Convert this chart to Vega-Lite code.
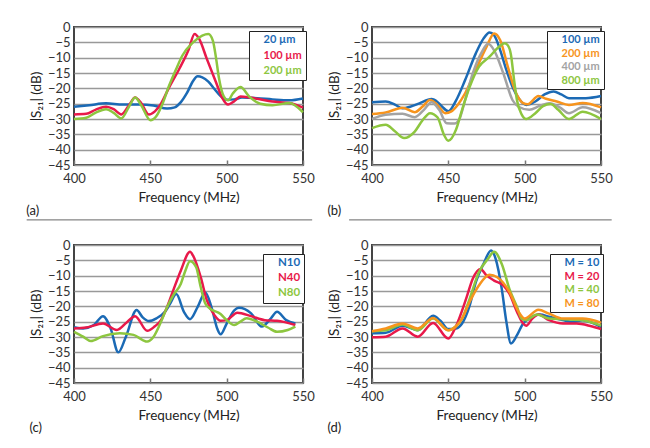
{
  "$schema": "https://vega.github.io/schema/vega-lite/v6.json",
  "padding": {"left": 25, "top": 20, "right": 0, "bottom": 0},
  "background": "white",
  "data": {"values": [
    {"p":"a","s":"20 µm","f":400,"v":-26},{"p":"a","s":"20 µm","f":410,"v":-25.5},{"p":"a","s":"20 µm","f":421,"v":-24.9},{"p":"a","s":"20 µm","f":432,"v":-25.3},{"p":"a","s":"20 µm","f":443,"v":-25.3},{"p":"a","s":"20 µm","f":452,"v":-25.6},{"p":"a","s":"20 µm","f":461,"v":-26.6},{"p":"a","s":"20 µm","f":466,"v":-26.2},{"p":"a","s":"20 µm","f":470,"v":-24.5},{"p":"a","s":"20 µm","f":474,"v":-21.5},{"p":"a","s":"20 µm","f":478,"v":-17.6},{"p":"a","s":"20 µm","f":481,"v":-16.1},{"p":"a","s":"20 µm","f":484,"v":-16.4},{"p":"a","s":"20 µm","f":488,"v":-17.8},{"p":"a","s":"20 µm","f":492,"v":-20.2},{"p":"a","s":"20 µm","f":496,"v":-22.5},{"p":"a","s":"20 µm","f":500,"v":-23.7},{"p":"a","s":"20 µm","f":505,"v":-23.6},{"p":"a","s":"20 µm","f":510,"v":-23},{"p":"a","s":"20 µm","f":520,"v":-23.2},{"p":"a","s":"20 µm","f":530,"v":-23.6},{"p":"a","s":"20 µm","f":541,"v":-23.9},{"p":"a","s":"20 µm","f":550,"v":-23.3},
    {"p":"a","s":"100 µm","f":400,"v":-28.5},{"p":"a","s":"100 µm","f":408,"v":-28.3},{"p":"a","s":"100 µm","f":414,"v":-27},{"p":"a","s":"100 µm","f":421,"v":-26},{"p":"a","s":"100 µm","f":426,"v":-26.8},{"p":"a","s":"100 µm","f":431,"v":-28.5},{"p":"a","s":"100 µm","f":436,"v":-25.5},{"p":"a","s":"100 µm","f":440,"v":-23},{"p":"a","s":"100 µm","f":444,"v":-24.8},{"p":"a","s":"100 µm","f":449,"v":-28.5},{"p":"a","s":"100 µm","f":453,"v":-27.5},{"p":"a","s":"100 µm","f":457,"v":-25},{"p":"a","s":"100 µm","f":462,"v":-20},{"p":"a","s":"100 µm","f":469,"v":-13.6},{"p":"a","s":"100 µm","f":475,"v":-7.5},{"p":"a","s":"100 µm","f":479,"v":-2.3},{"p":"a","s":"100 µm","f":482,"v":-3.9},{"p":"a","s":"100 µm","f":487,"v":-10.4},{"p":"a","s":"100 µm","f":493,"v":-18},{"p":"a","s":"100 µm","f":497,"v":-23},{"p":"a","s":"100 µm","f":501,"v":-25.3},{"p":"a","s":"100 µm","f":505,"v":-24.2},{"p":"a","s":"100 µm","f":509,"v":-22.7},{"p":"a","s":"100 µm","f":515,"v":-23},{"p":"a","s":"100 µm","f":520,"v":-23.4},{"p":"a","s":"100 µm","f":530,"v":-24.3},{"p":"a","s":"100 µm","f":541,"v":-24.8},{"p":"a","s":"100 µm","f":550,"v":-26.3},
    {"p":"a","s":"200 µm","f":400,"v":-30},{"p":"a","s":"200 µm","f":408,"v":-29.6},{"p":"a","s":"200 µm","f":414,"v":-28},{"p":"a","s":"200 µm","f":421,"v":-26.8},{"p":"a","s":"200 µm","f":426,"v":-28},{"p":"a","s":"200 µm","f":431,"v":-29.8},{"p":"a","s":"200 µm","f":436,"v":-26},{"p":"a","s":"200 µm","f":440,"v":-23},{"p":"a","s":"200 µm","f":444,"v":-25.5},{"p":"a","s":"200 µm","f":450,"v":-30.4},{"p":"a","s":"200 µm","f":454,"v":-29},{"p":"a","s":"200 µm","f":458,"v":-25},{"p":"a","s":"200 µm","f":462,"v":-19.5},{"p":"a","s":"200 µm","f":467,"v":-13.6},{"p":"a","s":"200 µm","f":471,"v":-9.3},{"p":"a","s":"200 µm","f":478,"v":-5},{"p":"a","s":"200 µm","f":484,"v":-2.8},{"p":"a","s":"200 µm","f":488,"v":-2.3},{"p":"a","s":"200 µm","f":491,"v":-4.5},{"p":"a","s":"200 µm","f":493,"v":-10},{"p":"a","s":"200 µm","f":495,"v":-16.8},{"p":"a","s":"200 µm","f":498,"v":-22.5},{"p":"a","s":"200 µm","f":501,"v":-23.9},{"p":"a","s":"200 µm","f":504,"v":-21.7},{"p":"a","s":"200 µm","f":509,"v":-19.6},{"p":"a","s":"200 µm","f":515,"v":-22.8},{"p":"a","s":"200 µm","f":522,"v":-25},{"p":"a","s":"200 µm","f":530,"v":-25.5},{"p":"a","s":"200 µm","f":541,"v":-24.8},{"p":"a","s":"200 µm","f":550,"v":-27.8},
    {"p":"b","s":"100 µm","f":400,"v":-24.5},{"p":"b","s":"100 µm","f":409,"v":-24.3},{"p":"b","s":"100 µm","f":415,"v":-25.3},{"p":"b","s":"100 µm","f":420,"v":-26.5},{"p":"b","s":"100 µm","f":425,"v":-26},{"p":"b","s":"100 µm","f":431,"v":-24.9},{"p":"b","s":"100 µm","f":439,"v":-23.5},{"p":"b","s":"100 µm","f":443,"v":-24.5},{"p":"b","s":"100 µm","f":446,"v":-26},{"p":"b","s":"100 µm","f":450,"v":-27.5},{"p":"b","s":"100 µm","f":455,"v":-24},{"p":"b","s":"100 µm","f":461,"v":-17.3},{"p":"b","s":"100 µm","f":468,"v":-8.6},{"p":"b","s":"100 µm","f":473,"v":-3.8},{"p":"b","s":"100 µm","f":477,"v":-1.8},{"p":"b","s":"100 µm","f":480,"v":-2.7},{"p":"b","s":"100 µm","f":484,"v":-7.6},{"p":"b","s":"100 µm","f":488,"v":-14},{"p":"b","s":"100 µm","f":492,"v":-19.5},{"p":"b","s":"100 µm","f":496,"v":-23.2},{"p":"b","s":"100 µm","f":501,"v":-25.4},{"p":"b","s":"100 µm","f":507,"v":-24.3},{"p":"b","s":"100 µm","f":513,"v":-22},{"p":"b","s":"100 µm","f":519,"v":-21},{"p":"b","s":"100 µm","f":524,"v":-22},{"p":"b","s":"100 µm","f":529,"v":-23.2},{"p":"b","s":"100 µm","f":540,"v":-23.2},{"p":"b","s":"100 µm","f":550,"v":-22.5},
    {"p":"b","s":"200 µm","f":400,"v":-28.4},{"p":"b","s":"200 µm","f":409,"v":-27.9},{"p":"b","s":"200 µm","f":420,"v":-26.3},{"p":"b","s":"200 µm","f":428,"v":-27.8},{"p":"b","s":"200 µm","f":433,"v":-26},{"p":"b","s":"200 µm","f":438,"v":-23.8},{"p":"b","s":"200 µm","f":443,"v":-25.5},{"p":"b","s":"200 µm","f":448,"v":-28.1},{"p":"b","s":"200 µm","f":452,"v":-27.5},{"p":"b","s":"200 µm","f":456,"v":-25.5},{"p":"b","s":"200 µm","f":461,"v":-21.6},{"p":"b","s":"200 µm","f":468,"v":-14},{"p":"b","s":"200 µm","f":475,"v":-6.5},{"p":"b","s":"200 µm","f":480,"v":-2.1},{"p":"b","s":"200 µm","f":484,"v":-4.3},{"p":"b","s":"200 µm","f":489,"v":-13},{"p":"b","s":"200 µm","f":494,"v":-21.1},{"p":"b","s":"200 µm","f":499,"v":-24.8},{"p":"b","s":"200 µm","f":502,"v":-25.2},{"p":"b","s":"200 µm","f":509,"v":-22.5},{"p":"b","s":"200 µm","f":514,"v":-23.4},{"p":"b","s":"200 µm","f":521,"v":-24.3},{"p":"b","s":"200 µm","f":529,"v":-25.4},{"p":"b","s":"200 µm","f":538,"v":-24.8},{"p":"b","s":"200 µm","f":550,"v":-26.2},
    {"p":"b","s":"400 µm","f":400,"v":-30},{"p":"b","s":"400 µm","f":409,"v":-28.6},{"p":"b","s":"400 µm","f":420,"v":-28.3},{"p":"b","s":"400 µm","f":428,"v":-29.4},{"p":"b","s":"400 µm","f":434,"v":-27},{"p":"b","s":"400 µm","f":439,"v":-24.5},{"p":"b","s":"400 µm","f":444,"v":-27},{"p":"b","s":"400 µm","f":449,"v":-31.4},{"p":"b","s":"400 µm","f":454,"v":-31.5},{"p":"b","s":"400 µm","f":457,"v":-30.3},{"p":"b","s":"400 µm","f":461,"v":-23.8},{"p":"b","s":"400 µm","f":466,"v":-15.1},{"p":"b","s":"400 µm","f":472,"v":-8.1},{"p":"b","s":"400 µm","f":476,"v":-5.5},{"p":"b","s":"400 µm","f":480,"v":-7.6},{"p":"b","s":"400 µm","f":486,"v":-15.1},{"p":"b","s":"400 µm","f":492,"v":-23.8},{"p":"b","s":"400 µm","f":496,"v":-26},{"p":"b","s":"400 µm","f":503,"v":-27},{"p":"b","s":"400 µm","f":510,"v":-25.7},{"p":"b","s":"400 µm","f":516,"v":-24.9},{"p":"b","s":"400 µm","f":523,"v":-26.2},{"p":"b","s":"400 µm","f":529,"v":-28.1},{"p":"b","s":"400 µm","f":538,"v":-26.2},{"p":"b","s":"400 µm","f":550,"v":-28.1},
    {"p":"b","s":"800 µm","f":400,"v":-33},{"p":"b","s":"800 µm","f":409,"v":-31.9},{"p":"b","s":"800 µm","f":415,"v":-34},{"p":"b","s":"800 µm","f":421,"v":-36.2},{"p":"b","s":"800 µm","f":428,"v":-34.1},{"p":"b","s":"800 µm","f":433,"v":-30.5},{"p":"b","s":"800 µm","f":438,"v":-28.1},{"p":"b","s":"800 µm","f":443,"v":-29.5},{"p":"b","s":"800 µm","f":447,"v":-35},{"p":"b","s":"800 µm","f":450,"v":-37.1},{"p":"b","s":"800 µm","f":455,"v":-33.5},{"p":"b","s":"800 µm","f":459,"v":-27},{"p":"b","s":"800 µm","f":464,"v":-19.5},{"p":"b","s":"800 µm","f":470,"v":-13},{"p":"b","s":"800 µm","f":477,"v":-9.7},{"p":"b","s":"800 µm","f":483,"v":-6.5},{"p":"b","s":"800 µm","f":487,"v":-5.3},{"p":"b","s":"800 µm","f":489,"v":-6},{"p":"b","s":"800 µm","f":491,"v":-9},{"p":"b","s":"800 µm","f":493,"v":-17},{"p":"b","s":"800 µm","f":495,"v":-24},{"p":"b","s":"800 µm","f":498,"v":-28.5},{"p":"b","s":"800 µm","f":501,"v":-30},{"p":"b","s":"800 µm","f":507,"v":-28.1},{"p":"b","s":"800 µm","f":512,"v":-25.8},{"p":"b","s":"800 µm","f":517,"v":-25.1},{"p":"b","s":"800 µm","f":522,"v":-27},{"p":"b","s":"800 µm","f":529,"v":-30},{"p":"b","s":"800 µm","f":538,"v":-27.6},{"p":"b","s":"800 µm","f":550,"v":-30},
    {"p":"c","s":"N10","f":400,"v":-26.8},{"p":"c","s":"N10","f":406,"v":-27.2},{"p":"c","s":"N10","f":413,"v":-26.1},{"p":"c","s":"N10","f":419,"v":-23.2},{"p":"c","s":"N10","f":424,"v":-27.2},{"p":"c","s":"N10","f":429,"v":-35},{"p":"c","s":"N10","f":434,"v":-29.9},{"p":"c","s":"N10","f":441,"v":-21.2},{"p":"c","s":"N10","f":445,"v":-23.6},{"p":"c","s":"N10","f":449,"v":-24.8},{"p":"c","s":"N10","f":454,"v":-23.9},{"p":"c","s":"N10","f":460,"v":-21.5},{"p":"c","s":"N10","f":463,"v":-19.1},{"p":"c","s":"N10","f":467,"v":-16},{"p":"c","s":"N10","f":472,"v":-21.8},{"p":"c","s":"N10","f":476,"v":-24.2},{"p":"c","s":"N10","f":481,"v":-20.2},{"p":"c","s":"N10","f":486,"v":-15.5},{"p":"c","s":"N10","f":490,"v":-20.2},{"p":"c","s":"N10","f":494,"v":-27.5},{"p":"c","s":"N10","f":496,"v":-29.1},{"p":"c","s":"N10","f":500,"v":-25.6},{"p":"c","s":"N10","f":505,"v":-21.3},{"p":"c","s":"N10","f":508,"v":-20.5},{"p":"c","s":"N10","f":516,"v":-22.3},{"p":"c","s":"N10","f":523,"v":-26.6},{"p":"c","s":"N10","f":529,"v":-23.9},{"p":"c","s":"N10","f":533,"v":-21.8},{"p":"c","s":"N10","f":539,"v":-24.5},{"p":"c","s":"N10","f":545,"v":-25.6},
    {"p":"c","s":"N40","f":400,"v":-27.2},{"p":"c","s":"N40","f":408,"v":-26.9},{"p":"c","s":"N40","f":419,"v":-25.6},{"p":"c","s":"N40","f":428,"v":-27.7},{"p":"c","s":"N40","f":435,"v":-25},{"p":"c","s":"N40","f":440,"v":-23.2},{"p":"c","s":"N40","f":448,"v":-28},{"p":"c","s":"N40","f":453,"v":-26.5},{"p":"c","s":"N40","f":457,"v":-24.5},{"p":"c","s":"N40","f":461,"v":-20.2},{"p":"c","s":"N40","f":465,"v":-14.8},{"p":"c","s":"N40","f":470,"v":-8.3},{"p":"c","s":"N40","f":476,"v":-2.2},{"p":"c","s":"N40","f":478,"v":-3.5},{"p":"c","s":"N40","f":483,"v":-10.5},{"p":"c","s":"N40","f":487,"v":-18},{"p":"c","s":"N40","f":492,"v":-22.9},{"p":"c","s":"N40","f":496,"v":-24.7},{"p":"c","s":"N40","f":500,"v":-24.5},{"p":"c","s":"N40","f":507,"v":-22.1},{"p":"c","s":"N40","f":516,"v":-23.2},{"p":"c","s":"N40","f":525,"v":-24.5},{"p":"c","s":"N40","f":533,"v":-24.7},{"p":"c","s":"N40","f":545,"v":-26.1},
    {"p":"c","s":"N80","f":400,"v":-28.3},{"p":"c","s":"N80","f":406,"v":-29.9},{"p":"c","s":"N80","f":411,"v":-31.3},{"p":"c","s":"N80","f":419,"v":-29.7},{"p":"c","s":"N80","f":430,"v":-28.8},{"p":"c","s":"N80","f":439,"v":-29.3},{"p":"c","s":"N80","f":445,"v":-31},{"p":"c","s":"N80","f":448,"v":-31.5},{"p":"c","s":"N80","f":452,"v":-30},{"p":"c","s":"N80","f":457,"v":-25},{"p":"c","s":"N80","f":461,"v":-20.2},{"p":"c","s":"N80","f":465,"v":-16.4},{"p":"c","s":"N80","f":470,"v":-12.6},{"p":"c","s":"N80","f":473,"v":-8.3},{"p":"c","s":"N80","f":476,"v":-5.3},{"p":"c","s":"N80","f":480,"v":-7.2},{"p":"c","s":"N80","f":483,"v":-13.7},{"p":"c","s":"N80","f":486,"v":-19.1},{"p":"c","s":"N80","f":489,"v":-20.7},{"p":"c","s":"N80","f":496,"v":-22.5},{"p":"c","s":"N80","f":500,"v":-24.5},{"p":"c","s":"N80","f":505,"v":-26.1},{"p":"c","s":"N80","f":509,"v":-25},{"p":"c","s":"N80","f":513,"v":-23.9},{"p":"c","s":"N80","f":520,"v":-25},{"p":"c","s":"N80","f":527,"v":-26.9},{"p":"c","s":"N80","f":533,"v":-28.3},{"p":"c","s":"N80","f":540,"v":-27.7},{"p":"c","s":"N80","f":545,"v":-26.6},
    {"p":"d","s":"M = 10","f":400,"v":-28.8},{"p":"d","s":"M = 10","f":409,"v":-28.6},{"p":"d","s":"M = 10","f":420,"v":-26.3},{"p":"d","s":"M = 10","f":430,"v":-27.8},{"p":"d","s":"M = 10","f":440,"v":-23.1},{"p":"d","s":"M = 10","f":445,"v":-24.8},{"p":"d","s":"M = 10","f":450,"v":-27.4},{"p":"d","s":"M = 10","f":455,"v":-27.2},{"p":"d","s":"M = 10","f":459,"v":-25.6},{"p":"d","s":"M = 10","f":464,"v":-19.7},{"p":"d","s":"M = 10","f":468,"v":-12.1},{"p":"d","s":"M = 10","f":473,"v":-6.2},{"p":"d","s":"M = 10","f":478,"v":-1.8},{"p":"d","s":"M = 10","f":481,"v":-4.5},{"p":"d","s":"M = 10","f":485,"v":-14.3},{"p":"d","s":"M = 10","f":488,"v":-25},{"p":"d","s":"M = 10","f":491,"v":-32.1},{"p":"d","s":"M = 10","f":495,"v":-29.4},{"p":"d","s":"M = 10","f":499,"v":-25.6},{"p":"d","s":"M = 10","f":503,"v":-24},{"p":"d","s":"M = 10","f":510,"v":-22.7},{"p":"d","s":"M = 10","f":516,"v":-23.4},{"p":"d","s":"M = 10","f":525,"v":-24.5},{"p":"d","s":"M = 10","f":532,"v":-25.1},{"p":"d","s":"M = 10","f":538,"v":-24.5},{"p":"d","s":"M = 10","f":550,"v":-26.7},
    {"p":"d","s":"M = 20","f":400,"v":-30.1},{"p":"d","s":"M = 20","f":409,"v":-29.9},{"p":"d","s":"M = 20","f":420,"v":-27.2},{"p":"d","s":"M = 20","f":430,"v":-29.9},{"p":"d","s":"M = 20","f":440,"v":-25.4},{"p":"d","s":"M = 20","f":450,"v":-30.5},{"p":"d","s":"M = 20","f":455,"v":-26.5},{"p":"d","s":"M = 20","f":462,"v":-17},{"p":"d","s":"M = 20","f":466,"v":-11},{"p":"d","s":"M = 20","f":471,"v":-7.8},{"p":"d","s":"M = 20","f":475,"v":-9.9},{"p":"d","s":"M = 20","f":480,"v":-11.6},{"p":"d","s":"M = 20","f":486,"v":-13.2},{"p":"d","s":"M = 20","f":490,"v":-15.9},{"p":"d","s":"M = 20","f":495,"v":-21.8},{"p":"d","s":"M = 20","f":499,"v":-25.6},{"p":"d","s":"M = 20","f":501,"v":-26.3},{"p":"d","s":"M = 20","f":505,"v":-24},{"p":"d","s":"M = 20","f":509,"v":-22.7},{"p":"d","s":"M = 20","f":516,"v":-24.5},{"p":"d","s":"M = 20","f":525,"v":-25.6},{"p":"d","s":"M = 20","f":534,"v":-25.6},{"p":"d","s":"M = 20","f":543,"v":-26.4},{"p":"d","s":"M = 20","f":550,"v":-27.4},
    {"p":"d","s":"M = 40","f":400,"v":-28.1},{"p":"d","s":"M = 40","f":409,"v":-27.8},{"p":"d","s":"M = 40","f":420,"v":-25.9},{"p":"d","s":"M = 40","f":430,"v":-27.8},{"p":"d","s":"M = 40","f":440,"v":-24},{"p":"d","s":"M = 40","f":450,"v":-27.8},{"p":"d","s":"M = 40","f":455,"v":-26.5},{"p":"d","s":"M = 40","f":459,"v":-24},{"p":"d","s":"M = 40","f":464,"v":-17.5},{"p":"d","s":"M = 40","f":470,"v":-8.9},{"p":"d","s":"M = 40","f":476,"v":-4.5},{"p":"d","s":"M = 40","f":480,"v":-2.2},{"p":"d","s":"M = 40","f":485,"v":-6.2},{"p":"d","s":"M = 40","f":490,"v":-14.3},{"p":"d","s":"M = 40","f":495,"v":-20.2},{"p":"d","s":"M = 40","f":498,"v":-24},{"p":"d","s":"M = 40","f":501,"v":-24.5},{"p":"d","s":"M = 40","f":508,"v":-22.7},{"p":"d","s":"M = 40","f":516,"v":-24},{"p":"d","s":"M = 40","f":525,"v":-24.2},{"p":"d","s":"M = 40","f":538,"v":-24.5},{"p":"d","s":"M = 40","f":550,"v":-26.3},
    {"p":"d","s":"M = 80","f":400,"v":-28.1},{"p":"d","s":"M = 80","f":409,"v":-27.2},{"p":"d","s":"M = 80","f":420,"v":-25.6},{"p":"d","s":"M = 80","f":430,"v":-27.2},{"p":"d","s":"M = 80","f":440,"v":-23.8},{"p":"d","s":"M = 80","f":450,"v":-27.8},{"p":"d","s":"M = 80","f":455,"v":-26.5},{"p":"d","s":"M = 80","f":459,"v":-24},{"p":"d","s":"M = 80","f":464,"v":-18.5},{"p":"d","s":"M = 80","f":470,"v":-13.2},{"p":"d","s":"M = 80","f":477,"v":-9.7},{"p":"d","s":"M = 80","f":482,"v":-10.5},{"p":"d","s":"M = 80","f":490,"v":-15.3},{"p":"d","s":"M = 80","f":496,"v":-21.8},{"p":"d","s":"M = 80","f":500,"v":-24},{"p":"d","s":"M = 80","f":509,"v":-21.1},{"p":"d","s":"M = 80","f":516,"v":-22.4},{"p":"d","s":"M = 80","f":525,"v":-24},{"p":"d","s":"M = 80","f":538,"v":-24},{"p":"d","s":"M = 80","f":550,"v":-25.3}
  ]},
  "columns": 2,
  "spacing": {"row": 16, "column": 10},
  "resolve": {"scale": {"color": "independent", "x": "independent", "y": "independent"}, "legend": {"color": "independent"}},
  "concat": [
    {
      "width": 229, "height": 138,
      "title": {"text": "(a)", "orient": "bottom", "anchor": "start", "frame": "bounds", "offset": -15},
      "layer": [
        {
          "transform": [{"filter": "datum.p === 'a'"}],
          "mark": {"type": "line", "interpolate": "monotone", "strokeWidth": 2.5},
          "encoding": {
            "x": {"field": "f", "type": "quantitative", "scale": {"domain": [400, 550], "nice": false}, "axis": {"values": [400, 450, 500, 550]}, "title": "Frequency (MHz)"},
            "y": {"field": "v", "type": "quantitative", "scale": {"domain": [-45, 0], "nice": false}, "axis": {"values": [0, -5, -10, -15, -20, -25, -30, -35, -40, -45]}, "title": "|S₂₁| (dB)"},
            "color": {"field": "s", "type": "nominal", "scale": {"domain": ["20 µm", "100 µm", "200 µm"], "range": ["#1b6ab5", "#e8194a", "#8dc63f"]},
              "legend": {"orient": "none", "legendX": 175, "legendY": 4, "rowPadding": 3.5,
                "encode": {"labels": {"update": {"fill": {"signal": "['#1b6ab5', '#e8194a', '#8dc63f'][datum.index]"}}}}}}
          }
        },
        {
          "data": {"values": [{}]},
          "mark": {"type": "rule", "color": "#666", "strokeWidth": 1},
          "encoding": {
            "x": {"datum": 369, "type": "quantitative", "scale": {"domain": [400, 550], "nice": false}, "axis": {"values": [400, 450, 500, 550]}, "title": "Frequency (MHz)"},
            "x2": {"datum": 556},
            "y": {"datum": -62.9, "type": "quantitative", "scale": {"domain": [-45, 0], "nice": false}, "axis": {"values": [0, -5, -10, -15, -20, -25, -30, -35, -40, -45]}, "title": "|S₂₁| (dB)"}
          }
        }
      ]
    },
    {
      "width": 229, "height": 138,
      "title": {"text": "(b)", "orient": "bottom", "anchor": "start", "frame": "bounds", "offset": -15},
      "layer": [
        {
          "transform": [{"filter": "datum.p === 'b'"}],
          "mark": {"type": "line", "interpolate": "monotone", "strokeWidth": 2.5},
          "encoding": {
            "x": {"field": "f", "type": "quantitative", "scale": {"domain": [400, 550], "nice": false}, "axis": {"values": [400, 450, 500, 550]}, "title": "Frequency (MHz)"},
            "y": {"field": "v", "type": "quantitative", "scale": {"domain": [-45, 0], "nice": false}, "axis": {"values": [0, -5, -10, -15, -20, -25, -30, -35, -40, -45]}, "title": "|S₂₁| (dB)"},
            "color": {"field": "s", "type": "nominal", "scale": {"domain": ["100 µm", "200 µm", "400 µm", "800 µm"], "range": ["#1b6ab5", "#f7941d", "#a3a3a3", "#8dc63f"]},
              "legend": {"orient": "none", "legendX": 175, "legendY": 4, "rowPadding": 1.5,
                "encode": {"labels": {"update": {"fill": {"signal": "['#1b6ab5', '#f7941d', '#a3a3a3', '#8dc63f'][datum.index]"}}}}}}
          }
        },
        {
          "data": {"values": [{}]},
          "mark": {"type": "rule", "color": "#666", "strokeWidth": 1},
          "encoding": {
            "x": {"datum": 385, "type": "quantitative", "scale": {"domain": [400, 550], "nice": false}, "axis": {"values": [400, 450, 500, 550]}, "title": "Frequency (MHz)"},
            "x2": {"datum": 557},
            "y": {"datum": -62.9, "type": "quantitative", "scale": {"domain": [-45, 0], "nice": false}, "axis": {"values": [0, -5, -10, -15, -20, -25, -30, -35, -40, -45]}, "title": "|S₂₁| (dB)"}
          }
        }
      ]
    },
    {
      "width": 229, "height": 138,
      "title": {"text": "(c)", "orient": "bottom", "anchor": "start", "frame": "bounds", "offset": 0},
      "transform": [{"filter": "datum.p === 'c'"}],
      "mark": {"type": "line", "interpolate": "monotone", "strokeWidth": 2.5},
      "encoding": {
        "x": {"field": "f", "type": "quantitative", "scale": {"domain": [400, 550], "nice": false}, "axis": {"values": [400, 450, 500, 550]}, "title": "Frequency (MHz)"},
        "y": {"field": "v", "type": "quantitative", "scale": {"domain": [-45, 0], "nice": false}, "axis": {"values": [0, -5, -10, -15, -20, -25, -30, -35, -40, -45]}, "title": "|S₂₁| (dB)"},
        "color": {"field": "s", "type": "nominal", "scale": {"domain": ["N10", "N40", "N80"], "range": ["#1b6ab5", "#e8194a", "#8dc63f"]},
          "legend": {"orient": "none", "legendX": 189, "legendY": 9, "rowPadding": 2, "labelFontSize": 11.5,
            "encode": {"labels": {"update": {"fill": {"signal": "['#1b6ab5', '#e8194a', '#8dc63f'][datum.index]"}}}}}}
      }
    },
    {
      "width": 229, "height": 138,
      "title": {"text": "(d)", "orient": "bottom", "anchor": "start", "frame": "bounds", "offset": 0},
      "transform": [{"filter": "datum.p === 'd'"}],
      "mark": {"type": "line", "interpolate": "monotone", "strokeWidth": 2.5},
      "encoding": {
        "x": {"field": "f", "type": "quantitative", "scale": {"domain": [400, 550], "nice": false}, "axis": {"values": [400, 450, 500, 550]}, "title": "Frequency (MHz)"},
        "y": {"field": "v", "type": "quantitative", "scale": {"domain": [-45, 0], "nice": false}, "axis": {"values": [0, -5, -10, -15, -20, -25, -30, -35, -40, -45]}, "title": "|S₂₁| (dB)"},
        "color": {"field": "s", "type": "nominal", "scale": {"domain": ["M = 10", "M = 20", "M = 40", "M = 80"], "range": ["#1b6ab5", "#e8194a", "#8dc63f", "#f7941d"]},
          "legend": {"orient": "none", "legendX": 178, "legendY": 9, "rowPadding": 1.5,
            "encode": {"labels": {"update": {"fill": {"signal": "['#1b6ab5', '#e8194a', '#8dc63f', '#f7941d'][datum.index]"}}}}}}
      }
    }
  ],
  "config": {
    "font": "Lato",
    "view": {"stroke": "#444", "strokeWidth": 2},
    "axis": {"labelFont": "Lato", "labelFontSize": 13, "labelColor": "#333", "titleFont": "Lato", "titleFontSize": 13.5, "titleFontWeight": "normal", "titleColor": "#222", "domain": false, "labelOverlap": false, "labelFlush": false},
    "axisY": {"grid": true, "gridColor": "#999", "gridWidth": 1.5, "ticks": false, "labelPadding": 4, "titlePadding": 4},
    "axisX": {"grid": false, "ticks": true, "tickSize": -5, "tickColor": "#777", "tickWidth": 1.5, "labelPadding": 12, "titlePadding": 5},
    "legend": {"title": null, "labelFont": "Lato", "labelFontSize": 11, "labelFontWeight": "bold", "symbolSize": 0, "symbolOpacity": 0, "symbolStrokeWidth": 0, "labelOffset": 0, "padding": 3.5, "strokeColor": "#222", "fillColor": "#ffffff"},
    "title": {"font": "Lato", "fontSize": 13, "fontWeight": "normal", "color": "#222"}
  }
}
